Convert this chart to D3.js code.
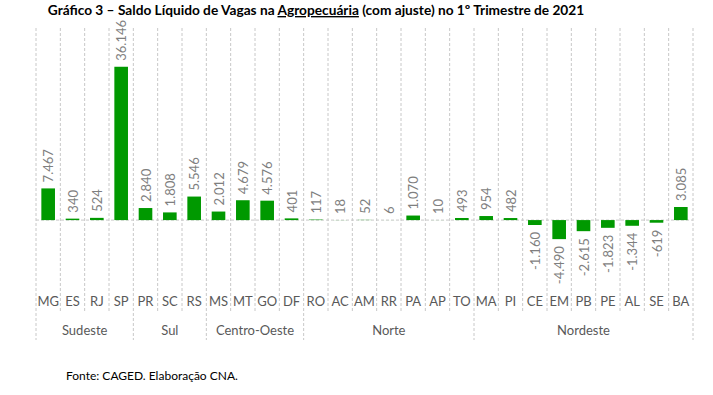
<!DOCTYPE html>
<html>
<head>
<meta charset="utf-8">
<script src="https://cdn.jsdelivr.net/npm/d3@7"></script>
<style>
  body { margin: 0; background: #fff; }
  svg { font-family: Lato, "Open Sans", sans-serif; }
</style>
</head>
<body>
<div id="chart"></div>
<script>
// categories (states) and their values
var states = ["MG","ES","RJ","SP","PR","SC","RS","MS","MT","GO","DF","RO","AC","AM","RR","PA","AP","TO","MA","PI","CE","EM","PB","PE","AL","SE","BA"];
var saldo = [7467,340,524,36146,2840,1808,5546,2012,4679,4576,401,117,18,52,6,1070,10,493,954,482,-1160,-4490,-2615,-1823,-1344,-619,3085];
var regions = ["Sudeste","Sul","Centro-Oeste","Norte","Nordeste"];
var regionSizes = [4,3,4,7,9];

var width = 713, height = 395;
var plotLeft = 36, plotRight = 693, plotTop = 29.2, plotBottom = 262.5;

var svg = d3.select("#chart").append("svg")
  .attr("width", width)
  .attr("height", height);

var data = states.map(function(s, i){ return {uf: s, value: saldo[i]}; });

var x = d3.scaleBand()
  .domain(states)
  .range([plotLeft, plotRight])
  .paddingInner(0.44)
  .paddingOuter(0.22);

var y = d3.scaleLinear()
  .domain([-10000, 45000])
  .range([plotBottom, plotTop]);

var br = d3.formatLocale({decimal: ",", thousands: ".", grouping: [3], currency: ["R$", ""], minus: "-"});
var fmt = br.format(",d");

var step = x.step();
var grid = "#c8c8c8";

// vertical dashed separators between categories
var bounds = d3.range(states.length + 1);
var groupEdges = [0];
regionSizes.forEach(function(n){ groupEdges.push(groupEdges[groupEdges.length - 1] + n); });

svg.append("g").selectAll("line")
  .data(bounds)
  .enter()
  .append("line")
  .attr("x1", function(i){ return plotLeft + i * step; })
  .attr("x2", function(i){ return plotLeft + i * step; })
  .attr("y1", 28)
  .attr("y2", function(i){ return groupEdges.indexOf(i) >= 0 ? 340 : 312; })
  .attr("stroke", grid)
  .attr("stroke-width", 1)
  .attr("stroke-dasharray", "3,2");

// zero line
svg.append("line")
  .attr("x1", plotLeft).attr("x2", plotRight)
  .attr("y1", y(0)).attr("y2", y(0))
  .attr("stroke", grid)
  .attr("stroke-dasharray", "3,2");

// bars
svg.append("g").selectAll("rect")
  .data(data)
  .enter()
  .append("rect")
  .attr("x", function(d){ return x(d.uf); })
  .attr("width", x.bandwidth())
  .attr("y", function(d){ return y(Math.max(0, d.value)); })
  .attr("height", function(d){ return Math.abs(y(d.value) - y(0)); })
  .attr("fill", "#009900");

// value labels (rotated)
svg.append("g").selectAll("text")
  .data(data)
  .enter()
  .append("text")
  .attr("transform", function(d){
    var cx = x(d.uf) + x.bandwidth() / 2;
    var yy = d.value >= 0 ? y(d.value) - 6 : y(d.value) + 7;
    return "translate(" + cx + "," + yy + ") rotate(-90)";
  })
  .attr("text-anchor", function(d){ return d.value >= 0 ? "start" : "end"; })
  .attr("dominant-baseline", "central")
  .attr("font-size", 13)
  .attr("fill", "#7f7f7f")
  .text(function(d){ return fmt(d.value); });

// category labels
svg.append("g").selectAll("text")
  .data(states)
  .enter()
  .append("text")
  .attr("x", function(d){ return x(d) + x.bandwidth() / 2; })
  .attr("y", 306)
  .attr("text-anchor", "middle")
  .attr("font-size", 13)
  .attr("fill", "#595959")
  .text(function(d){ return d; });

// region labels
svg.append("g").selectAll("text")
  .data(regions)
  .enter()
  .append("text")
  .attr("x", function(d, i){ return plotLeft + step * (groupEdges[i] + groupEdges[i + 1]) / 2; })
  .attr("y", 335)
  .attr("text-anchor", "middle")
  .attr("font-size", 13)
  .attr("fill", "#595959")
  .text(function(d){ return d; });

// title
var title = svg.append("text")
  .attr("x", 316)
  .attr("y", 15)
  .attr("text-anchor", "middle")
  .attr("font-size", 13.7)
  .attr("font-weight", "bold")
  .attr("fill", "#000");
title.append("tspan").text("Gráfico 3 – Saldo Líquido de Vagas na ");
title.append("tspan").attr("text-decoration", "underline").text("Agropecuária");
title.append("tspan").text(" (com ajuste) no 1º Trimestre de 2021");

// source
svg.append("text")
  .attr("x", 66)
  .attr("y", 380)
  .attr("font-size", 12)
  .attr("fill", "#000")
  .text("Fonte: CAGED. Elaboração CNA.");
</script>
</body>
</html>
